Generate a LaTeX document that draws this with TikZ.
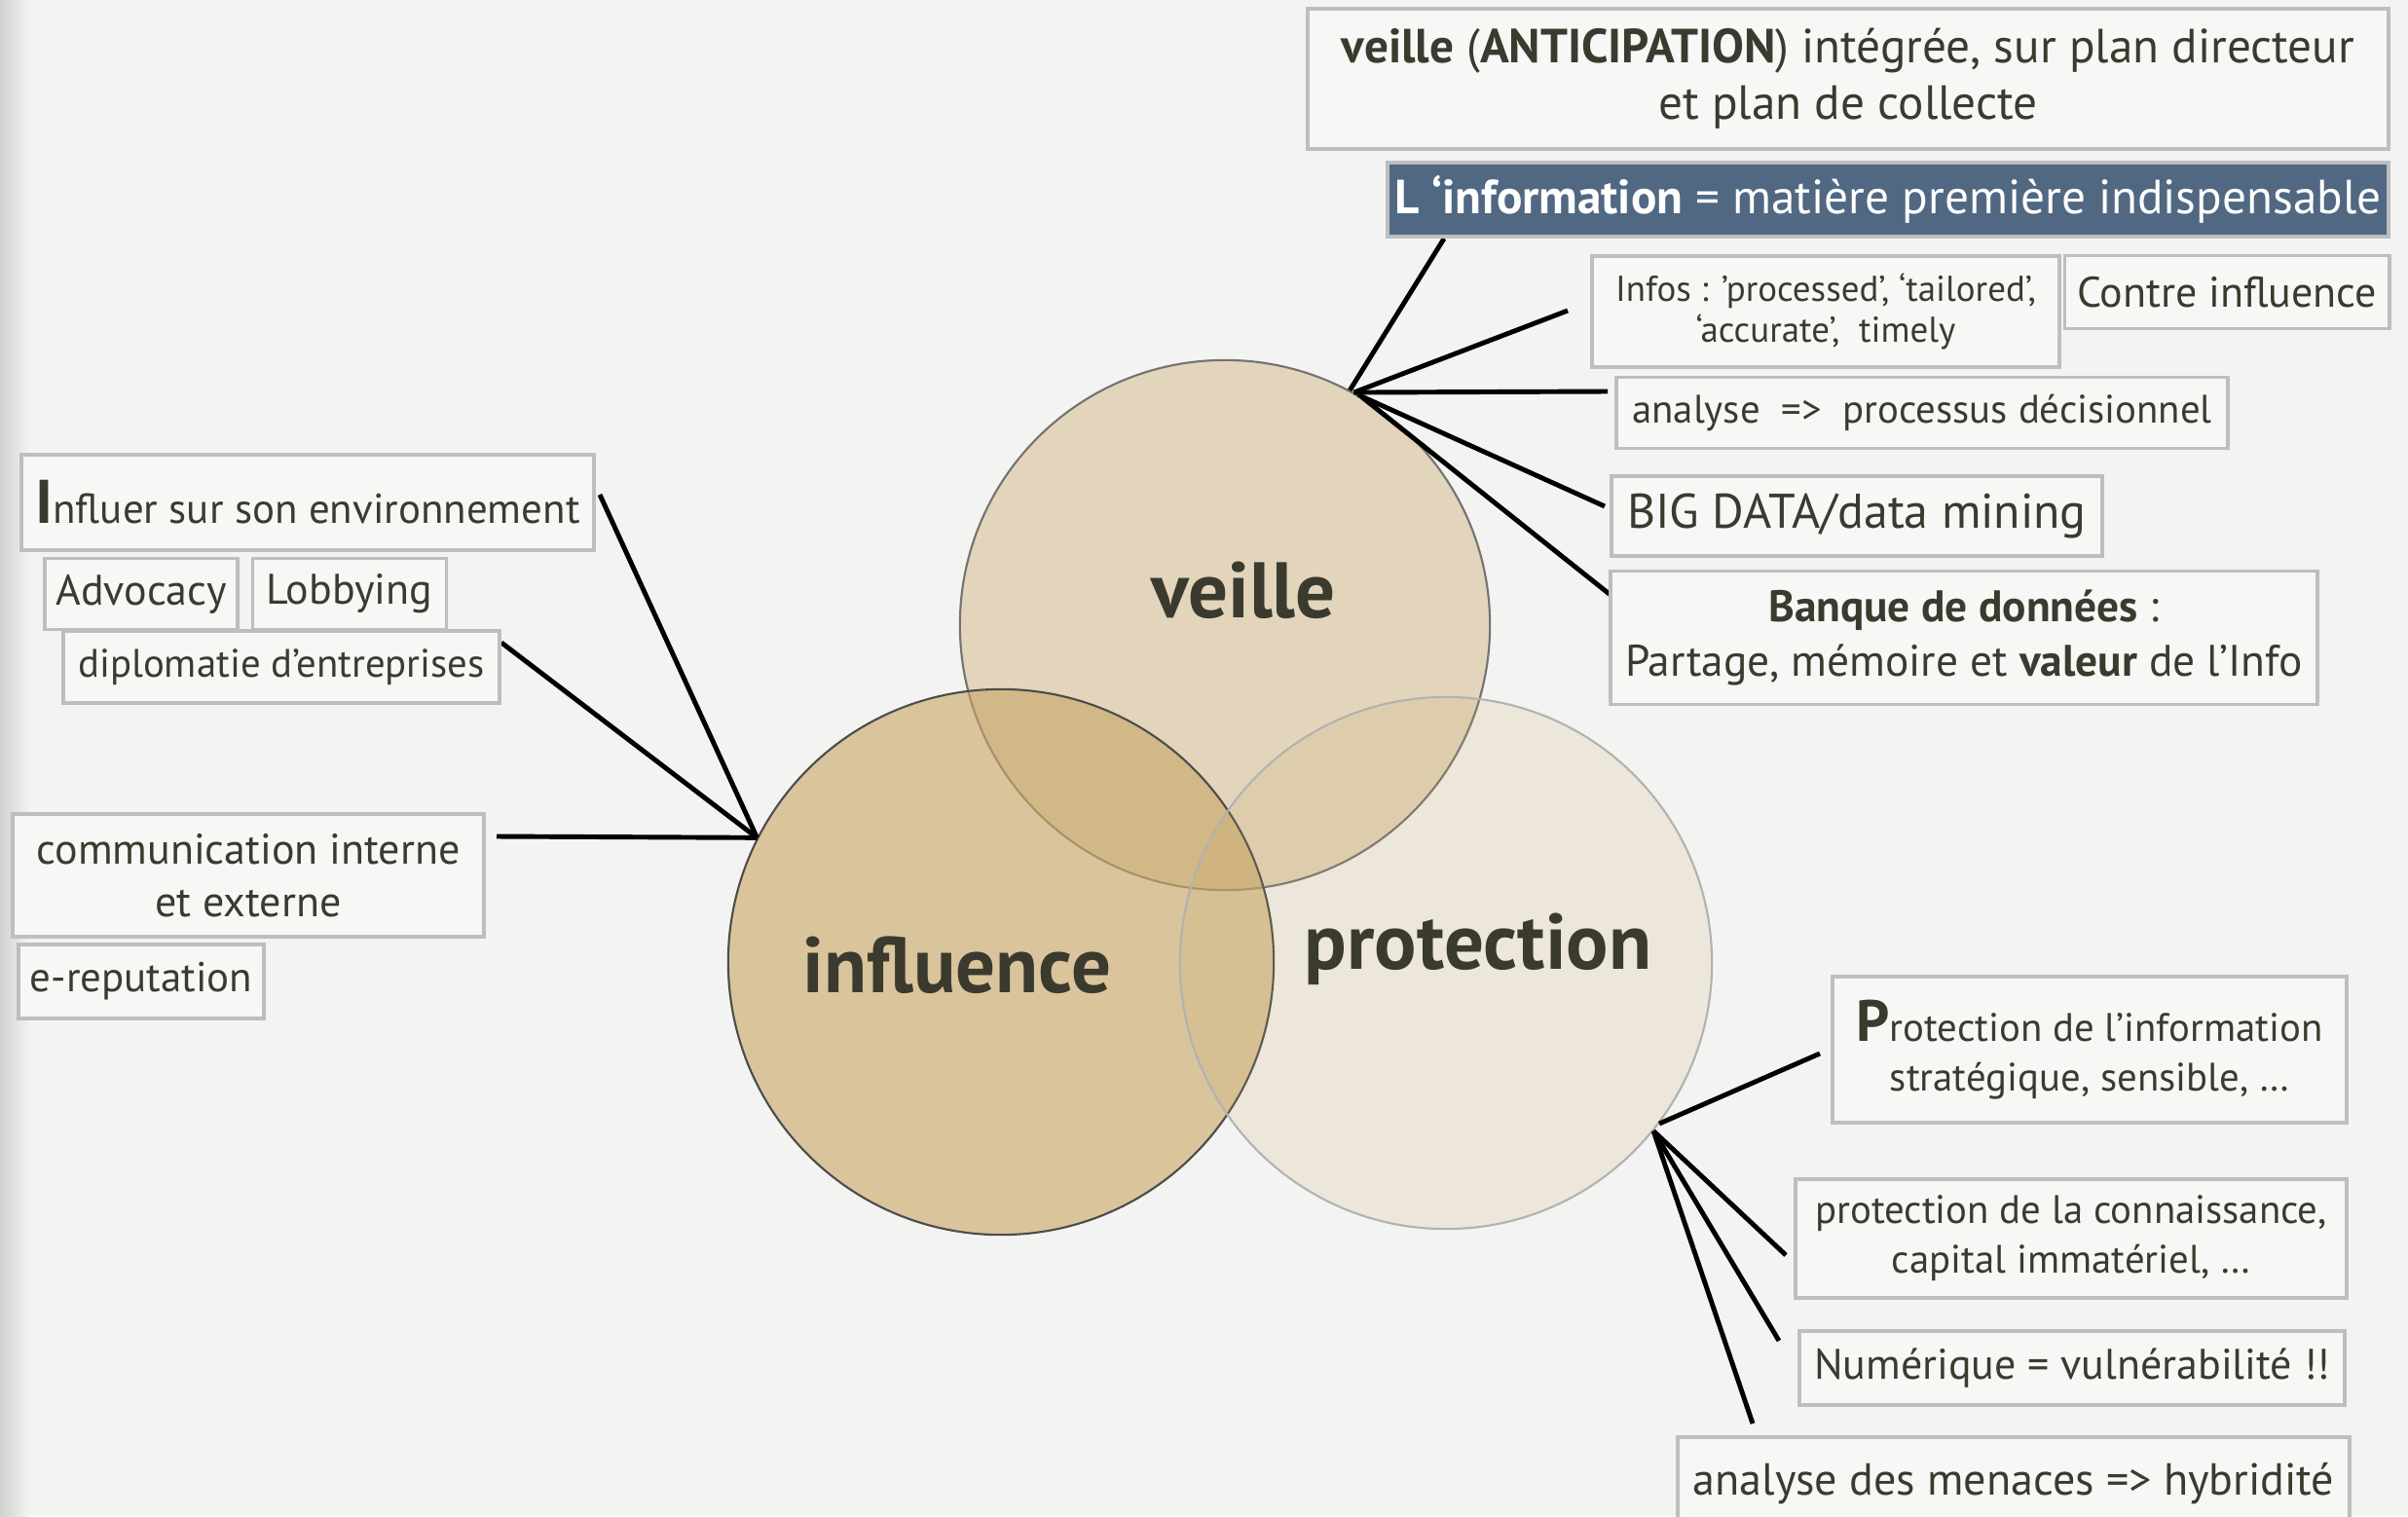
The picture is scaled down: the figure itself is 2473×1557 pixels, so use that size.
\documentclass[tikz,border=0pt]{standalone}
\usepackage{fontspec}
\setmainfont{PT Sans}
\usepackage{tikz}
\usetikzlibrary{positioning}
\definecolor{ink}{RGB}{58,58,46}
\definecolor{boxgray}{RGB}{190,190,190}
\definecolor{boxfill}{RGB}{247,247,246}
\definecolor{paper}{RGB}{243,243,242}
\definecolor{sand}{RGB}{200,165,100}
\definecolor{slate}{RGB}{80,104,130}
\begin{document}
\begin{tikzpicture}[x=0.01cm, y=-0.01cm,
    box/.style={draw=boxgray, line width=1.1pt, fill=boxfill, text=ink, align=center, inner sep=0pt, font=\fontsize{12.5}{15.5}\selectfont},
    small/.style={font=\fontsize{10.5}{12}\selectfont},
    narrow/.style={font=\fontsize{11.6}{14.5}\selectfont},
    wide/.style={font=\fontsize{14}{16.5}\selectfont},
    link/.style={line width=1.4pt, black},
    ring/.style={circle, fill=sand, line width=0.6pt},
    big/.style={anchor=base, text=ink, font=\fontsize{23}{26}\selectfont\bfseries}]
    \clip (0,0) rectangle (2473,1557);
    \fill[paper] (0,0) rectangle (2473,1557);
    \shade[left color=black!18, right color=paper] (0,0) rectangle (30,1557);
    \node[ring, draw=black!55, fill opacity=0.38, minimum size=5.44cm] (veille) at (1258,642) {};
    \node[ring, draw=black!70, fill opacity=0.6, minimum size=5.6cm] (influence) at (1028,988) {};
    \node[ring, draw=black!30, fill opacity=0.16, minimum size=5.46cm] (protection) at (1485,989) {};
    \node[big] (veilletxt) at (1277,634) {veille};
    \node[big] (influencetxt) at (983,1019) {influence};
    \node[big] (protectiontxt) at (1518,995) {protection};
    \coordinate (vA) at (1483,245);
    \coordinate (vB) at (1610,319);
    \coordinate (vC) at (1651,402);
    \coordinate (vD) at (1648,520);
    \coordinate (vE) at (1659,615);
    \coordinate (iA) at (616,508);
    \coordinate (iB) at (515,660);
    \coordinate (iC) at (510,859);
    \coordinate (pA) at (1869,1082);
    \coordinate (pB) at (1834,1289);
    \coordinate (pC) at (1827,1377);
    \coordinate (pD) at (1800,1462);
    \draw[link] (veille.62) -- (vA);
    \draw[link] (veille.61.5) -- (vB);
    \draw[link] (veille.61) -- (vC);
    \draw[link] (veille.60) -- (vD);
    \draw[link] (veille.59) -- (vE);
    \draw[link] (influence.153) -- (iA);
    \draw[link] (influence.153) -- (iB);
    \draw[link] (influence.153) -- (iC);
    \draw[link] (protection.-37) -- (pA);
    \draw[link] (protection.-39) -- (pB);
    \draw[link] (protection.-39) -- (pC);
    \draw[link] (protection.-39) -- (pD);
    \node[box, wide, minimum width=11.09cm, minimum height=1.44cm] (anticipation) at (1898,81) {\textbf{veille} (\textbf{ANTICIPATION}) intégrée, sur plan directeur\\et plan de collecte};
    \node[box, wide, fill=slate, text=white, minimum width=10.27cm, minimum height=0.76cm] (matiere) at (1939,205) {\textbf{L ‘information} = matière première indispensable};
    \node[box, small, minimum width=4.79cm, minimum height=1.14cm] (infos) at (1875,320) {Infos : ’processed’, ‘tailored’,\\‘accurate’,\ \ timely};
    \node[box, minimum width=3.33cm, minimum height=0.75cm] (contre) at (2287,300) {Contre influence};
    \node[box, narrow, minimum width=6.27cm, minimum height=0.73cm] (analyse) at (1974,424) {analyse\ \ =>\ \ processus décisionnel};
    \node[box, font=\fontsize{14.2}{16}\selectfont, minimum width=5.03cm, minimum height=0.82cm] (bigdata) at (1907,530) {BIG DATA/data mining};
    \node[box, font=\fontsize{12.9}{15.8}\selectfont, minimum width=7.26cm, minimum height=1.37cm] (banque) at (2017,655) {\textbf{Banque de données} :\\Partage, mémoire et \textbf{valeur} de l’Info};
    \node[box, font=\fontsize{12.2}{15}\selectfont, minimum width=5.88cm, minimum height=0.98cm] (influer) at (316,516) {{\fontsize{18}{18}\selectfont\bfseries I}nfluer sur son environnement};
    \node[box, minimum width=1.98cm, minimum height=0.73cm] (advocacy) at (145,610) {Advocacy};
    \node[box, minimum width=1.99cm, minimum height=0.73cm] (lobbying) at (359,610) {Lobbying};
    \node[box, narrow, minimum width=4.47cm, minimum height=0.74cm] (diplomatie) at (289,685) {diplomatie d’entreprises};
    \node[box, minimum width=4.83cm, minimum height=1.26cm] (communication) at (255,899) {communication interne\\et externe};
    \node[box, font=\fontsize{12.2}{15}\selectfont, minimum width=2.52cm, minimum height=0.76cm] (ereputation) at (145,1008) {e-reputation};
    \node[box, narrow, minimum width=5.27cm, minimum height=1.5cm] (protinfo) at (2146,1078) {{\fontsize{17}{17}\selectfont\bfseries P}rotection de l’information\\stratégique, sensible, …};
    \node[box, narrow, minimum width=5.66cm, minimum height=1.22cm] (connaissance) at (2127,1272) {protection de la connaissance,\\capital immatériel, …};
    \node[box, minimum width=5.6cm, minimum height=0.76cm] (numerique) at (2128,1405) {Numérique = vulnérabilité !!};
    \node[box, font=\fontsize{13.1}{16}\selectfont, minimum width=6.89cm, minimum height=0.96cm] (menaces) at (2068,1524) {analyse des menaces => hybridité};
\end{tikzpicture}
\end{document}
